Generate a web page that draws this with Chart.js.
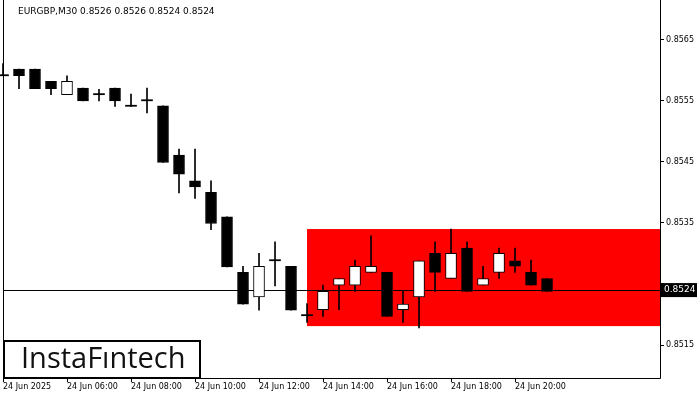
<!DOCTYPE html>
<html>
<head>
<meta charset="utf-8">
<script src="https://cdn.jsdelivr.net/npm/chart.js@4/dist/chart.umd.min.js"></script>
<style>
  body { margin: 0; background: #fff; }
  #wrap { width: 700px; height: 400px; }
</style>
</head>
<body>
<div id="wrap"><canvas id="c"></canvas></div>
<script>
const opens  = [0.85591, 0.85602, 0.85602, 0.85582, 0.85560, 0.85571, 0.85560, 0.85571, 0.85541, 0.85550,
                0.85542, 0.85461, 0.85419, 0.85400, 0.85360, 0.85269, 0.85229, 0.85288, 0.85279, 0.85198,
                0.85208, 0.85248, 0.85248, 0.85269, 0.85269, 0.85208, 0.85229, 0.85300, 0.85259, 0.85309,
                0.85248, 0.85269, 0.85288, 0.85269, 0.85259]
const highs  = [0.85611, 0.85602, 0.85602, 0.85582, 0.85591, 0.85571, 0.85569, 0.85571, 0.85561, 0.85571,
                0.85542, 0.85471, 0.85471, 0.85419, 0.85360, 0.85279, 0.85300, 0.85319, 0.85279, 0.85218,
                0.85248, 0.85259, 0.85289, 0.85329, 0.85269, 0.85238, 0.85288, 0.85319, 0.85340, 0.85319,
                0.85279, 0.85309, 0.85309, 0.85289, 0.85259]
const lows   = [0.85591, 0.85570, 0.85570, 0.85560, 0.85560, 0.85550, 0.85550, 0.85541, 0.85541, 0.85530,
                0.85449, 0.85399, 0.85390, 0.85339, 0.85278, 0.85217, 0.85207, 0.85247, 0.85207, 0.85187,
                0.85197, 0.85208, 0.85238, 0.85269, 0.85197, 0.85187, 0.85178, 0.85238, 0.85259, 0.85238,
                0.85248, 0.85259, 0.85269, 0.85248, 0.85238]
const closes = [0.85591, 0.85591, 0.85570, 0.85570, 0.85582, 0.85550, 0.85560, 0.85550, 0.85541, 0.85550,
                0.85449, 0.85430, 0.85409, 0.85349, 0.85278, 0.85217, 0.85279, 0.85288, 0.85207, 0.85198,
                0.85238, 0.85259, 0.85279, 0.85279, 0.85197, 0.85217, 0.85288, 0.85269, 0.85300, 0.85238,
                0.85259, 0.85300, 0.85279, 0.85248, 0.85238]
const xTickIdx = [0, 4, 8, 12, 16, 20, 24, 28, 32]
const xTickLabels = ['24 Jun 2025', '24 Jun 06:00', '24 Jun 08:00', '24 Jun 10:00', '24 Jun 12:00',
                     '24 Jun 14:00', '24 Jun 16:00', '24 Jun 18:00', '24 Jun 20:00']
const yTicks = [0.8515, 0.8525, 0.8535, 0.8545, 0.8555, 0.8565]
const currentPrice = 0.8524
const zoneStart = 19
const zoneTop = 0.85340
const zoneBottom = 0.85181
const title = 'EURGBP,M30 0.8526 0.8526 0.8524 0.8524'

const idx = opens.map((_, i) => i)
const wicks = idx.map(i => ({ x: i, y: [lows[i], highs[i] === lows[i] ? highs[i] + 0.000005 : highs[i]] }))
const bodies = idx.map(i => {
  let a = opens[i], b = closes[i]
  if (Math.abs(a - b) < 0.00001) b = a + 0.000018
  return { x: i, y: [Math.min(a, b), Math.max(a, b)] }
})
const up = idx.map(i => closes[i] > opens[i])
const doji = idx.map(i => Math.abs(opens[i] - closes[i]) < 0.00001)

const overlay = {
  id: 'overlay',
  beforeDatasetsDraw(chart) {
    const { ctx, chartArea: a, scales: { x, y } } = chart
    ctx.save()
    ctx.fillStyle = '#ff0000'
    const x0 = x.getPixelForValue(zoneStart)
    ctx.fillRect(x0, y.getPixelForValue(zoneTop), a.right - x0, y.getPixelForValue(zoneBottom) - y.getPixelForValue(zoneTop))
    ctx.strokeStyle = '#000'
    ctx.lineWidth = 1
    const py = Math.round(y.getPixelForValue(currentPrice)) + 0.5
    ctx.beginPath(); ctx.moveTo(a.left, py); ctx.lineTo(a.right, py); ctx.stroke()
    ctx.restore()
  },
  afterDraw(chart) {
    const { ctx, chartArea: a, scales: { y } } = chart
    ctx.save()
    ctx.strokeStyle = '#000'
    ctx.lineWidth = 1
    ctx.beginPath()
    ctx.moveTo(a.left + 0.5, 0); ctx.lineTo(a.left + 0.5, a.bottom + 0.5)
    ctx.lineTo(a.right + 0.5, a.bottom + 0.5); ctx.lineTo(a.right + 0.5, 0)
    ctx.stroke()
    ctx.fillStyle = '#000'
    ctx.font = '9px "DejaVu Sans"'
    ctx.textBaseline = 'top'
    ctx.fillText(title, 18, 7)
    // price label
    const py = y.getPixelForValue(currentPrice)
    ctx.fillRect(a.right + 1, py - 7, 36, 14)
    ctx.fillStyle = '#fff'
    ctx.textBaseline = 'middle'
    ctx.fillText(currentPrice.toFixed(4), a.right + 4, py)
    // logo
    ctx.fillStyle = '#fff'
    ctx.fillRect(3, 340, 198, 38)
    ctx.lineWidth = 2
    ctx.strokeRect(4, 341, 196, 37)
    ctx.fillStyle = '#111'
    ctx.font = '29px "Open Sans"'
    ctx.fillText('InstaFıntech', 21, 360)
    ctx.restore()
  }
}

new Chart(document.getElementById('c'), {
  type: 'bar',
  data: {
    datasets: [
      {
        data: wicks,
        backgroundColor: '#000',
        barThickness: 1,
        grouped: false,
        order: 2
      },
      {
        data: bodies,
        backgroundColor: idx.map(i => doji[i] ? '#000' : (up[i] ? '#fff' : '#000')),
        borderColor: '#000',
        borderWidth: idx.map(i => doji[i] ? 0 : 1),
        borderSkipped: false,
        barThickness: idx.map(i => doji[i] ? 13 : 11),
        grouped: false,
        order: 1
      }
    ]
  },
  options: {
    responsive: true,
    maintainAspectRatio: false,
    animation: false,
    clip: false,
    layout: { padding: { left: 3, top: 0, right: 0, bottom: 0 } },
    plugins: { legend: { display: false }, tooltip: { enabled: false } },
    scales: {
      x: {
        type: 'linear',
        offset: false,
        min: 0,
        max: 41.06,
        grid: { display: true, drawOnChartArea: false, tickLength: 4, color: '#000', offset: false },
        border: { display: false },
        afterBuildTicks: s => { s.ticks = xTickIdx.map(v => ({ value: v })) },
        afterFit: s => { s.height = 22 },
        ticks: {
          autoSkip: false,
          maxRotation: 0,
          align: 'start',
          padding: 0,
          color: '#000',
          font: { family: 'DejaVu Sans', size: 8 },
          callback: v => xTickLabels[xTickIdx.indexOf(v)]
        }
      },
      y: {
        position: 'right',
        min: 0.85096,
        max: 0.85704,
        grid: { display: true, drawOnChartArea: false, tickLength: 4, color: '#000' },
        border: { display: false },
        afterBuildTicks: s => { s.ticks = yTicks.map(v => ({ value: v })) },
        afterFit: s => { s.width = 40 },
        ticks: {
          color: '#000',
          padding: 2,
          font: { family: 'DejaVu Sans', size: 8 },
          callback: v => v === 0.8525 ? '' : v.toFixed(4)
        }
      }
    }
  },
  plugins: [overlay]
})
</script>
</body>
</html>
